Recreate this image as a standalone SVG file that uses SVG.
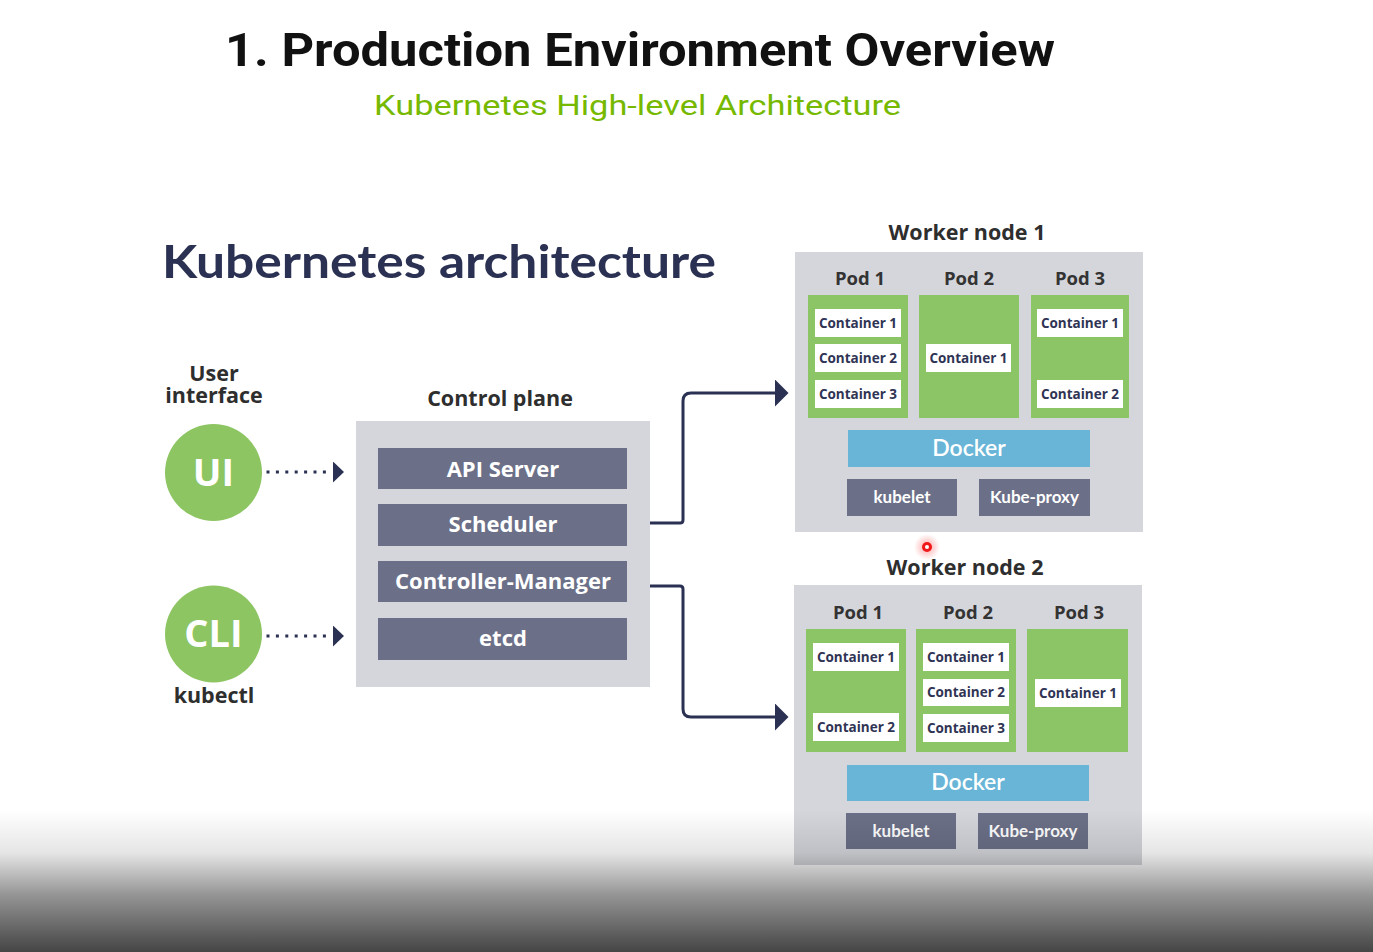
<svg xmlns="http://www.w3.org/2000/svg" width="1373" height="952" viewBox="0 0 1373 952">
<defs>
<style>
.title{font-family:Roboto,"Liberation Sans",sans-serif;font-weight:700;font-size:46px;fill:#111}
.sub{font-family:Roboto,"Liberation Sans",sans-serif;font-weight:400;font-size:28px;fill:#76b900}
.h1{font-family:Lato,"Open Sans",sans-serif;font-weight:700;font-size:46px;fill:#2b3152}
.lbl{font-family:"Open Sans","Noto Sans",sans-serif;font-weight:700;font-size:21.5px;fill:#2e2e2e;text-anchor:middle}
.pod{font-family:"Open Sans","Noto Sans",sans-serif;font-weight:700;font-size:18.5px;fill:#333;text-anchor:middle}
.circ{fill:#8cc562}
.ctext{font-family:"Open Sans","Noto Sans",sans-serif;font-weight:700;font-size:38px;fill:#fff;text-anchor:middle}
.grey{fill:#d5d6db}
.slate{fill:#6b7088}
.stext{font-family:"Open Sans","Noto Sans",sans-serif;font-weight:700;font-size:22px;fill:#fff;text-anchor:middle}
.ktext{font-family:Lato,"Open Sans",sans-serif;font-weight:700;font-size:17px;fill:#fff;text-anchor:middle}
.podbox{fill:#8bc566}
.cont{fill:#fff}
.cotext{font-family:"Open Sans","Noto Sans",sans-serif;font-weight:700;font-size:13.5px;fill:#2f3454;text-anchor:middle}
.docker{fill:#69b5d7}
.dtext{font-family:Lato,"Open Sans",sans-serif;font-weight:600;font-size:23px;fill:#fff;text-anchor:middle}
.dots{stroke:#2b3152;stroke-width:3;stroke-dasharray:3 6.4;fill:none}
.conn{stroke:#2b3152;stroke-width:3;fill:none}
</style>
<marker id="dotArrow" markerUnits="userSpaceOnUse" markerWidth="11" markerHeight="21" refX="-6" refY="10.5" orient="auto">
<path d="M0,0 L11,10.5 L0,21 Z" fill="#2b3152"/>
</marker>
<marker id="arrow" markerUnits="userSpaceOnUse" markerWidth="14" markerHeight="27" refX="0" refY="13.5" orient="auto">
<path d="M0,0 L13.5,13.5 L0,27 Z" fill="#2b3152"/>
</marker>
<linearGradient id="fade" x1="0" y1="0" x2="0" y2="1">
<stop offset="0" stop-color="#000" stop-opacity="0"/>
<stop offset="0.3" stop-color="#000" stop-opacity="0.1"/>
<stop offset="0.6" stop-color="#000" stop-opacity="0.42"/>
<stop offset="1" stop-color="#000" stop-opacity="0.73"/>
</linearGradient>
<radialGradient id="glow">
<stop offset="0" stop-color="#ff3b3b" stop-opacity="0.45"/>
<stop offset="1" stop-color="#ff3b3b" stop-opacity="0"/>
</radialGradient>
</defs>
<rect x="0" y="0" width="1373" height="952" fill="#fff"/>

<g id="headings">
<text class="title" x="225" y="66" textLength="830" lengthAdjust="spacingAndGlyphs">1. Production Environment Overview</text>
<text class="sub" x="374" y="115" textLength="527" lengthAdjust="spacingAndGlyphs">Kubernetes High-level Architecture</text>
<text class="h1" x="162" y="278" textLength="554" lengthAdjust="spacingAndGlyphs">Kubernetes architecture</text>
</g>

<g id="ui">
<text class="lbl" x="214" y="381"><tspan x="214" y="381">User</tspan><tspan x="214" dy="22">interface</tspan></text>
<circle class="circ" cx="213.5" cy="472.5" r="48.5"/>
<text class="ctext" x="213.5" y="486">UI</text>
</g>

<g id="cli">
<circle class="circ" cx="213.5" cy="634" r="48.5"/>
<text class="ctext" x="213.5" y="647">CLI</text>
<text class="lbl" x="214" y="703">kubectl</text>
</g>

<g id="control-plane">
<text class="lbl" x="500" y="406">Control plane</text>
<rect class="grey" x="356" y="421" width="294" height="266"/>
<g id="api-server"><rect class="slate" x="378" y="448" width="249" height="41"/><text class="stext" x="503" y="477">API Server</text></g>
<g id="scheduler"><rect class="slate" x="378" y="504" width="249" height="42"/><text class="stext" x="503" y="532">Scheduler</text></g>
<g id="controller-manager"><rect class="slate" x="378" y="561" width="249" height="41"/><text class="stext" x="503" y="589">Controller-Manager</text></g>
<g id="etcd"><rect class="slate" x="378" y="618" width="249" height="42"/><text class="stext" x="503" y="646">etcd</text></g>
</g>

<g id="worker-node-1">
<text class="lbl" x="967" y="240">Worker node 1</text>
<rect class="grey" x="795" y="252" width="348" height="280"/>
<text class="pod" x="860" y="285">Pod 1</text>
<text class="pod" x="969" y="285">Pod 2</text>
<text class="pod" x="1080" y="285">Pod 3</text>
<g id="w1-pod1">
<rect class="podbox" x="808" y="295" width="100" height="123"/>
<rect class="cont" x="815" y="309" width="86" height="28"/><text class="cotext" x="858" y="328">Container 1</text>
<rect class="cont" x="815" y="344" width="86" height="28"/><text class="cotext" x="858" y="363">Container 2</text>
<rect class="cont" x="815" y="380" width="86" height="28"/><text class="cotext" x="858" y="399">Container 3</text>
</g>
<g id="w1-pod2">
<rect class="podbox" x="919" y="295" width="100" height="123"/>
<rect class="cont" x="926" y="344" width="85" height="28"/><text class="cotext" x="968.5" y="363">Container 1</text>
</g>
<g id="w1-pod3">
<rect class="podbox" x="1031" y="295" width="98" height="123"/>
<rect class="cont" x="1037" y="309" width="86" height="28"/><text class="cotext" x="1080" y="328">Container 1</text>
<rect class="cont" x="1037" y="380" width="86" height="28"/><text class="cotext" x="1080" y="399">Container 2</text>
</g>
<rect class="docker" x="848" y="430" width="242" height="37"/><text class="dtext" x="969" y="456">Docker</text>
<rect class="slate" x="847" y="479" width="110" height="37"/><text class="ktext" x="902" y="503">kubelet</text>
<rect class="slate" x="979" y="479" width="111" height="37"/><text class="ktext" x="1034.5" y="503">Kube-proxy</text>
</g>

<g id="worker-node-2">
<text class="lbl" x="965" y="575">Worker node 2</text>
<rect class="grey" x="794" y="585" width="348" height="280"/>
<text class="pod" x="858" y="619">Pod 1</text>
<text class="pod" x="968" y="619">Pod 2</text>
<text class="pod" x="1079" y="619">Pod 3</text>
<g id="w2-pod1">
<rect class="podbox" x="806" y="629" width="100" height="123"/>
<rect class="cont" x="813" y="643" width="86" height="28"/><text class="cotext" x="856" y="662">Container 1</text>
<rect class="cont" x="813" y="713" width="86" height="28"/><text class="cotext" x="856" y="732">Container 2</text>
</g>
<g id="w2-pod2">
<rect class="podbox" x="916" y="629" width="100" height="123"/>
<rect class="cont" x="923" y="643" width="86" height="28"/><text class="cotext" x="966" y="662">Container 1</text>
<rect class="cont" x="923" y="679" width="86" height="27"/><text class="cotext" x="966" y="697">Container 2</text>
<rect class="cont" x="923" y="714" width="86" height="28"/><text class="cotext" x="966" y="733">Container 3</text>
</g>
<g id="w2-pod3">
<rect class="podbox" x="1027" y="629" width="101" height="123"/>
<rect class="cont" x="1035" y="679" width="86" height="28"/><text class="cotext" x="1078" y="698">Container 1</text>
</g>
<rect class="docker" x="847" y="765" width="242" height="36"/><text class="dtext" x="968" y="790">Docker</text>
<rect class="slate" x="846" y="813" width="110" height="36"/><text class="ktext" x="901" y="837">kubelet</text>
<rect class="slate" x="978" y="813" width="110" height="36"/><text class="ktext" x="1033" y="837">Kube-proxy</text>
</g>

<g id="connectors">
<line class="dots" x1="266.5" y1="472" x2="327" y2="472" marker-end="url(#dotArrow)"/>
<line class="dots" x1="266.5" y1="636" x2="327" y2="636" marker-end="url(#dotArrow)"/>
<path class="conn" d="M650,523 H680 Q683,523 683,520 V401 Q683,393 691,393 H775" marker-end="url(#arrow)"/>
<path class="conn" d="M650,586 H680 Q683,586 683,589 V709 Q683,717 691,717 H775" marker-end="url(#arrow)"/>
</g>

<g id="cursor">
<circle cx="927" cy="547" r="13" fill="url(#glow)"/>
<circle cx="927" cy="547" r="5" fill="#f01818"/>
<circle cx="927" cy="547" r="2" fill="#fff"/>
</g>

<rect id="bottom-fade" x="0" y="810" width="1373" height="142" fill="url(#fade)"/>
</svg>
